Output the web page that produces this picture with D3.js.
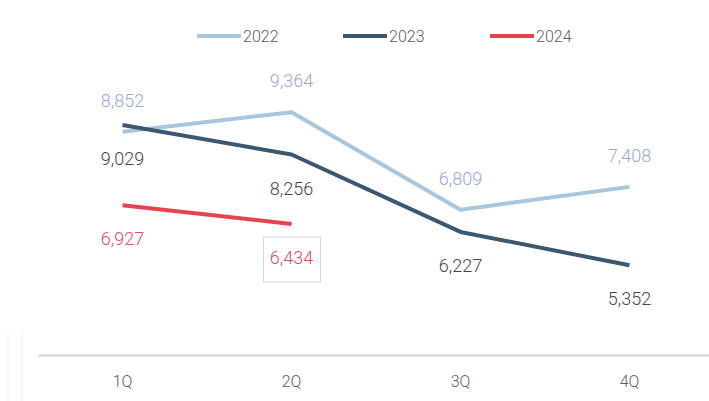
<!DOCTYPE html>
<html>
<head>
<meta charset="utf-8">
<script src="https://cdn.jsdelivr.net/npm/d3@7"></script>
<style>
  body { margin: 0; background: #fff; }
  svg { display: block; font-family: Roboto, "Liberation Sans", Arial, sans-serif; font-weight: 300; }
</style>
</head>
<body>
<div id="chart"></div>
<script>
// データ
const quarters = ['1Q', '2Q', '3Q', '4Q'];
const years = ['2022', '2023', '2024'];
const values2022 = [8852, 9364, 6809, 7408];
const values2023 = [9029, 8256, 6227, 5352];
const values2024 = [6927, 6434];

const W = 709, H = 401;
const colors = { '2022': '#a8c6de', '2023': '#3b5870', '2024': '#e5434e' };
const labelColors = { '2022': '#97a8d8', '2023': '#474747', '2024': '#db4f5b' };

const series = [
    { year: '2022', values: values2022, above: true },
    { year: '2023', values: values2023, above: false },
    { year: '2024', values: values2024, above: false }
];

const svg = d3.select('#chart').append('svg')
    .attr('width', W)
    .attr('height', H);

// スケール
const x = d3.scaleBand().domain(quarters).range([38, 714]);
const y = d3.scaleLinear().domain([3000, 10000]).range([355, 88]);
const cx = q => x(q) + x.bandwidth() / 2;

// 左端のかすかな線
[8, 22].forEach(px => {
    svg.append('line')
        .attr('x1', px).attr('x2', px)
        .attr('y1', 330).attr('y2', H)
        .attr('stroke', '#f1f1f1')
        .attr('stroke-width', 1);
});

// X軸
const xAxis = svg.append('g')
    .attr('transform', `translate(0,355)`)
    .call(d3.axisBottom(x).tickSize(0).tickPadding(21));
xAxis.select('.domain')
    .attr('stroke', '#cfcfcf')
    .attr('stroke-width', 2);
xAxis.selectAll('text')
    .attr('fill', '#5e5e5e')
    .style('font-family', 'Roboto, "Liberation Sans", Arial, sans-serif')
    .style('font-weight', 300)
    .style('font-size', '16px');

// ライン
const line = d3.line()
    .x((d, i) => cx(quarters[i]))
    .y(d => y(d));

series.forEach(s => {
    svg.append('path')
        .datum(s.values)
        .attr('d', line)
        .attr('fill', 'none')
        .attr('stroke', colors[s.year])
        .attr('stroke-width', 4)
        .attr('stroke-linejoin', 'round');
});

// ボックス（2024 2Q）
svg.append('rect')
    .attr('x', cx(quarters[1]) - 28)
    .attr('y', y(values2024[1]) + 13)
    .attr('width', 57)
    .attr('height', 45)
    .attr('fill', 'none')
    .attr('stroke', '#d8d8d8')
    .attr('stroke-width', 1);

// ラベル
series.forEach(s => {
    svg.selectAll(null)
        .data(s.values)
        .enter()
        .append('text')
        .attr('x', (d, i) => cx(quarters[i]))
        .attr('y', d => y(d) + (s.above ? -25 : 40))
        .attr('text-anchor', 'middle')
        .attr('fill', labelColors[s.year])
        .style('font-size', '18px')
        .text(d => d3.format(',')(d));
});

// 凡例
const legendX = [197, 343, 490];
years.forEach((yr, i) => {
    const g = svg.append('g').attr('transform', `translate(${legendX[i]},36)`);
    g.append('line')
        .attr('x1', 0).attr('x2', 44)
        .attr('y1', 0).attr('y2', 0)
        .attr('stroke', colors[yr])
        .attr('stroke-width', 4);
    g.append('text')
        .attr('x', 46)
        .attr('y', 6)
        .attr('fill', '#5e5e5e')
        .style('font-size', '16px')
        .text(yr);
});
</script>
</body>
</html>
